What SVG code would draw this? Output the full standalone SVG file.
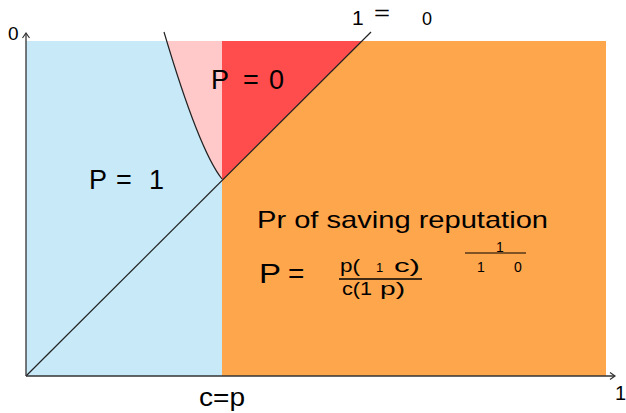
<svg xmlns="http://www.w3.org/2000/svg" width="626" height="413" viewBox="0 0 626 413">
<style>
text{font-family:"Liberation Sans",Arial,sans-serif;fill:#000}
.ax{stroke:#333;stroke-width:1.3;fill:none}
.ln{stroke:#222;stroke-width:1.2;fill:none}
</style>
<defs>
<clipPath id="plot"><rect x="26" y="41" width="580" height="335"/></clipPath>
<marker id="arr" markerWidth="10" markerHeight="10" refX="8" refY="5" orient="auto" markerUnits="userSpaceOnUse">
<path d="M3,1.5 L8,5 L3,8.5" fill="none" stroke="#333" stroke-width="1.2"/>
</marker>
</defs>
<rect width="626" height="413" fill="#fff"/>
<g id="regions">
<g id="orange"><rect x="222" y="41" width="384" height="335" fill="#FEA64C"/></g>
<g id="blue"><rect x="26" y="41" width="196" height="335" fill="#C7E9F8"/></g>
<g id="pink"><path d="M164,32 Q199,150 222,179 L222,32 Z" fill="#FFC9C9" clip-path="url(#plot)"/></g>
<g id="red"><polygon points="222,41 362,41 222,180" fill="#FF4C4C"/></g>
</g>
<g id="connectors">
<path class="ln" d="M164,32 Q199,150 222,179"/>
<line class="ln" x1="26" y1="376" x2="371" y2="32"/>
<line class="ax" x1="26" y1="376" x2="615" y2="376" marker-end="url(#arr)"/>
<line class="ax" x1="26" y1="376" x2="26" y2="33" marker-end="url(#arr)"/>
</g>
<g id="labels">
<text x="8" y="40" font-size="19">0</text>
<text x="615" y="400" font-size="20">1</text>
<text x="199" y="406" font-size="26" textLength="46" lengthAdjust="spacingAndGlyphs">c=p</text>
<text x="352" y="25" font-size="21">1</text>
<text x="374" y="20" font-size="21" textLength="16" lengthAdjust="spacingAndGlyphs">=</text>
<text x="422" y="25" font-size="18">0</text>
</g>
<g id="p0"><text y="89" font-size="27"><tspan x="211">P</tspan><tspan x="243">=</tspan><tspan x="269">0</tspan></text></g>
<g id="p1"><text y="189" font-size="27"><tspan x="89">P</tspan><tspan x="116">=</tspan><tspan x="149">1</tspan></text></g>
<g id="rep">
<text x="257" y="228" font-size="24" textLength="291" lengthAdjust="spacingAndGlyphs">Pr of saving reputation</text>
<text y="283" font-size="28"><tspan x="259" textLength="22" lengthAdjust="spacingAndGlyphs">P</tspan><tspan x="288">=</tspan></text>
<text y="272" font-size="19"><tspan x="340" textLength="20" lengthAdjust="spacingAndGlyphs">p(</tspan><tspan x="376" font-size="13">1</tspan><tspan x="394" textLength="26" lengthAdjust="spacingAndGlyphs">c)</tspan></text>
<line x1="339" y1="279" x2="422" y2="279" stroke="#000" stroke-width="1.3"/>
<text y="295" font-size="19"><tspan x="342" textLength="30" lengthAdjust="spacingAndGlyphs">c(1</tspan><tspan x="380" textLength="25" lengthAdjust="spacingAndGlyphs">p)</tspan></text>
<text x="496" y="252" font-size="14">1</text>
<line x1="465" y1="253" x2="526" y2="253" stroke="#000" stroke-width="1"/>
<text y="272" font-size="14"><tspan x="477">1</tspan><tspan x="514">0</tspan></text>
</g>
</svg>
